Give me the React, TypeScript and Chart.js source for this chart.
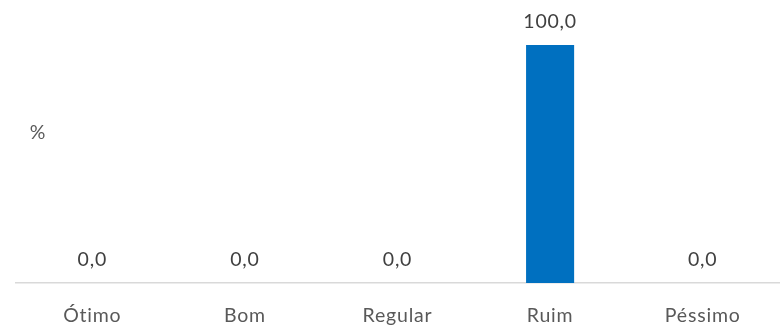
import React, { useEffect, useRef } from "react";
import { Chart, registerables } from "chart.js";

Chart.register(...registerables);

const categories = ["Ótimo", "Bom", "Regular", "Ruim", "Péssimo"];
const values = [0, 0, 0, 100, 0];
const yAxisTitle = "%";

const FONT = "Lato, 'Noto Sans', sans-serif";
const SIZE = 19.5;

const spacing = {
  id: "spacing",
  beforeDraw(chart: any) {
    chart.ctx.letterSpacing = "0.8px";
  },
};

const valueLabels = {
  id: "valueLabels",
  afterDatasetsDraw(chart: any) {
    const ctx = chart.ctx;
    const meta = chart.getDatasetMeta(0);
    ctx.save();
    ctx.font = `${SIZE}px ${FONT}`;
    ctx.fillStyle = "#404040";
    ctx.textAlign = "center";
    ctx.textBaseline = "alphabetic";
    meta.data.forEach((bar: any, i: number) => {
      const v = chart.data.datasets[0].data[i] as number;
      ctx.fillText(v.toFixed(1).replace(".", ","), bar.x, bar.y - 17);
    });
    ctx.restore();
  },
};

const axisTitle = {
  id: "axisTitle",
  afterDraw(chart: any) {
    const ctx = chart.ctx;
    ctx.save();
    ctx.font = `${SIZE}px ${FONT}`;
    ctx.fillStyle = "#595959";
    ctx.textAlign = "center";
    ctx.textBaseline = "middle";
    ctx.fillText(yAxisTitle, chart.chartArea.left + 22, 133);
    ctx.restore();
  },
};

export default function App() {
  const ref = useRef<HTMLCanvasElement>(null);
  useEffect(() => {
    if (!ref.current) return;
    const chart = new Chart(ref.current, {
      type: "bar",
      data: {
        labels: categories,
        datasets: [
          {
            data: values,
            backgroundColor: "#0070C0",
            categoryPercentage: 1,
            barPercentage: 0.315,
          },
        ],
      },
      options: {
        animation: false,
        responsive: false,
        layout: { padding: { left: 16, right: 4, top: 45, bottom: 0 } },
        plugins: { legend: { display: false }, tooltip: { enabled: false } },
        scales: {
          x: {
            grid: { display: false, drawTicks: false },
            border: { display: true, color: "#d9d9d9", width: 1.5 },
            ticks: {
              color: "#595959",
              font: { family: FONT, size: SIZE },
              padding: 21,
              maxRotation: 0,
            },
            afterFit(scale: any) {
              scale.height = 47;
            },
          },
          y: { display: false, min: 0, max: 100 },
        },
      },
      plugins: [spacing, valueLabels, axisTitle],
    });
    return () => chart.destroy();
  }, []);
  return (
    <div style={{ position: "fixed", left: 0, top: 0, width: 783, height: 330, background: "#fff" }}>
      <canvas ref={ref} width={783} height={330} />
    </div>
  );
}
